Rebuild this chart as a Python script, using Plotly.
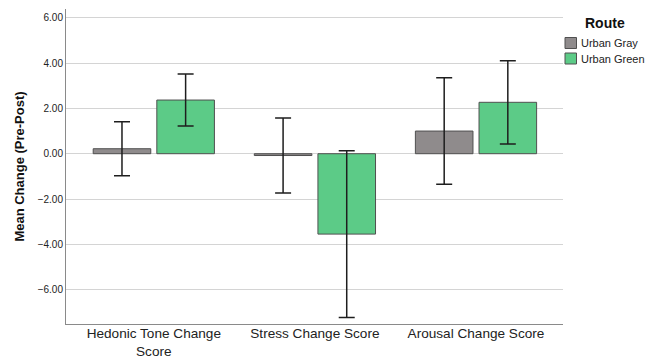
import plotly.graph_objects as go

# Mean change scores (pre - post) with 95% CI half-widths, per route
categories = ["Hedonic Tone Change<br>Score", "Stress Change Score", "Arousal Change Score"]
routes = ["Urban Gray", "Urban Green"]
gray_means = [0.22, -0.08, 1.00]
gray_ci = [1.19, 1.66, 2.35]
green_means = [2.37, -3.55, 2.27]
green_ci = [1.15, 3.68, 1.84]
y_ticks = [-6, -4, -2, 0, 2, 4, 6]

colors = {"Urban Gray": "#8f8b8c", "Urban Green": "#5ccb87"}
font_family = "Liberation Sans, Arial, sans-serif"

W, H = 654, 358
M = dict(l=66, r=91, t=9, b=34)
pw, ph = W - M["l"] - M["r"], H - M["t"] - M["b"]


def px_x(x):
    return (x - M["l"]) / pw


def px_y(y):
    return (H - M["b"] - y) / ph


fig = go.Figure()
for name, means, ci in [("Urban Gray", gray_means, gray_ci),
                        ("Urban Green", green_means, green_ci)]:
    fig.add_trace(go.Bar(
        name=name,
        x=categories,
        y=means,
        marker=dict(color=colors[name], line=dict(color="#505050", width=1)),
        error_y=dict(type="data", array=ci, visible=True,
                     color="#1e1e1e", thickness=1.5, width=8),
        showlegend=False,
    ))

# Legend: "Route" title with two swatches
fig.add_annotation(text="<b>Route</b>", x=px_x(605), y=px_y(23), xref="paper", yref="paper",
                   showarrow=False, xanchor="center", yanchor="middle",
                   font=dict(size=14, color="#111", family=font_family))
for i, name in enumerate(routes):
    cy = 43 + i * 15.5
    fig.add_shape(type="rect", xref="paper", yref="paper",
                  x0=px_x(565), x1=px_x(576.5), y0=px_y(cy + 5.5), y1=px_y(cy - 5.5),
                  fillcolor=colors[name], line=dict(color="#505050", width=1))
    fig.add_annotation(text=name, x=px_x(579), y=px_y(cy), xref="paper", yref="paper",
                       showarrow=False, xanchor="left", yanchor="middle",
                       font=dict(size=11, color="#222", family=font_family))

fig.update_layout(
    width=W, height=H,
    margin=M,
    paper_bgcolor="white", plot_bgcolor="white",
    barmode="group", bargap=0.21, bargroupgap=0.095,
    font=dict(family=font_family, color="#222"),
    xaxis=dict(range=[-0.545, 2.54], showline=True, linecolor="#8a8a8a", linewidth=1,
               showgrid=False, ticks="", automargin=False, ticklabelstandoff=-3,
               tickfont=dict(size=13.6, color="#222")),
    yaxis=dict(range=[-7.52, 6.39], tickvals=y_ticks, tickformat=".2f",
               showline=True, linecolor="#8a8a8a", linewidth=1,
               showgrid=True, gridcolor="#d4d4d4", gridwidth=1, automargin=False,
               zeroline=False, ticks="", tickfont=dict(size=10, color="#222"),
               title=dict(text="<b>Mean Change (Pre-Post)</b>", font=dict(size=13, color="#111"),
                          standoff=10)),
)

fig.write_html("out.html")
